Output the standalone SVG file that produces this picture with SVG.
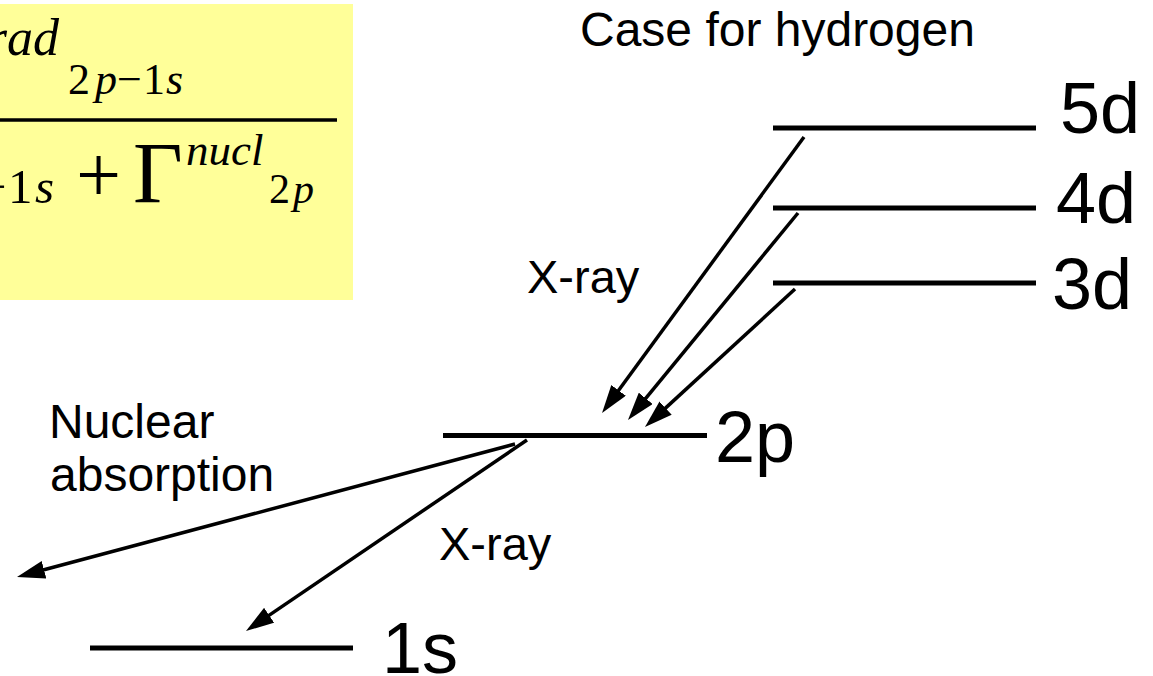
<svg xmlns="http://www.w3.org/2000/svg" width="1153" height="676" viewBox="0 0 1153 676">
  <style>
    .level { stroke: #000; stroke-width: 5; fill: none; }
    .lvlabel { font-family: "Liberation Sans", Arial, sans-serif; font-size: 72px; fill: #000; }
    .label { font-family: "Liberation Sans", Arial, sans-serif; font-size: 47px; fill: #000; }
    .label48 { font-size: 48px; }
    .math { font-family: "Liberation Serif", "Times New Roman", serif; fill: #000; }
    .it { font-style: italic; }
    .arrow { stroke: #000; stroke-width: 3.5; fill: none; marker-end: url(#ah); }
  </style>
  <defs>
    <marker id="ah" markerUnits="userSpaceOnUse" markerWidth="28" markerHeight="18" refX="2" refY="9" orient="auto">
      <path d="M0,0 L28,9 L0,18 Z" fill="#000"/>
    </marker>
  </defs>
  <rect width="1153" height="676" fill="#fff"/>

  <g id="formula">
    <rect x="-10" y="4" width="363" height="296" fill="#ffff99"/>
    <text class="math it" x="59" y="55" font-size="52" text-anchor="end">rad</text>
    <text class="math" y="94" font-size="44"><tspan x="68">2</tspan><tspan class="it" x="95">p</tspan><tspan x="117">−</tspan><tspan x="143">1</tspan><tspan class="it" x="166">s</tspan></text>
    <line x1="-5" y1="120" x2="337" y2="120" stroke="#000" stroke-width="3.5"/>
    <text class="math" y="203" font-size="49"><tspan x="-21">−</tspan><tspan x="8">1</tspan><tspan class="it" x="35">s</tspan></text>
    <text class="math" x="76" y="202" font-size="80">+</text>
    <text class="math" x="133" y="202" font-size="86">Γ</text>
    <text class="math it" x="186" y="165" font-size="45">nucl</text>
    <text class="math" y="203" font-size="42"><tspan x="269">2</tspan><tspan class="it" x="293">p</tspan></text>
  </g>

  <g id="title">
    <text class="label label48" x="580" y="46">Case for hydrogen</text>
  </g>

  <g id="level-5d">
    <line class="level" x1="773" y1="128" x2="1036" y2="128"/>
    <text class="lvlabel" x="1060" y="133">5d</text>
  </g>
  <g id="level-4d">
    <line class="level" x1="773" y1="208" x2="1036" y2="208"/>
    <text class="lvlabel" x="1056" y="223">4d</text>
  </g>
  <g id="level-3d">
    <line class="level" x1="773" y1="283" x2="1036" y2="283"/>
    <text class="lvlabel" x="1052" y="309">3d</text>
  </g>
  <g id="level-2p">
    <line class="level" x1="443" y1="435.5" x2="707" y2="435.5"/>
    <text class="lvlabel" x="715" y="462">2p</text>
  </g>
  <g id="level-1s">
    <line class="level" x1="90" y1="648" x2="353" y2="648"/>
    <text class="lvlabel" x="382" y="673">1s</text>
  </g>

  <g id="label-xray-upper">
    <text class="label" x="527" y="293">X-ray</text>
  </g>
  <g id="label-xray-lower">
    <text class="label" x="439" y="560">X-ray</text>
  </g>
  <g id="label-nuclear">
    <text class="label label48" x="49" y="438">Nuclear</text>
    <text class="label label48" x="50" y="491">absorption</text>
  </g>

  <g id="connectors">
    <line class="arrow" x1="804" y1="137" x2="617.4" y2="392.0"/>
    <line class="arrow" x1="798" y1="213" x2="644.5" y2="399.9"/>
    <line class="arrow" x1="795" y1="289" x2="664.1" y2="409.4"/>
    <line class="arrow" x1="515" y1="444" x2="42.1" y2="570.3"/>
    <line class="arrow" x1="527" y1="440" x2="267.5" y2="616.4"/>
  </g>
</svg>
